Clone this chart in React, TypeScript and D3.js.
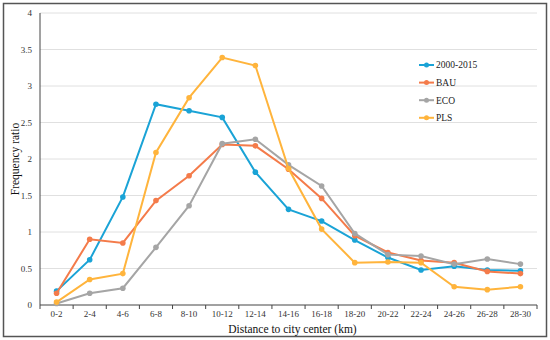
import { useEffect, useRef } from "react";
import * as d3 from "d3";

const categories = ["0-2", "2-4", "4-6", "6-8", "8-10", "10-12", "12-14", "14-16", "16-18", "18-20", "20-22", "22-24", "24-26", "26-28", "28-30"];
const yTicks = [0, 0.5, 1, 1.5, 2, 2.5, 3, 3.5, 4];

const s2000 = [0.19, 0.62, 1.48, 2.75, 2.66, 2.57, 1.82, 1.31, 1.15, 0.89, 0.65, 0.48, 0.53, 0.48, 0.47];
const bau = [0.16, 0.9, 0.85, 1.43, 1.77, 2.2, 2.18, 1.86, 1.46, 0.95, 0.72, 0.61, 0.58, 0.46, 0.43];
const eco = [0.02, 0.16, 0.23, 0.79, 1.36, 2.21, 2.27, 1.92, 1.63, 0.98, 0.69, 0.67, 0.56, 0.63, 0.56];
const pls = [0.04, 0.35, 0.43, 2.09, 2.84, 3.39, 3.28, 1.87, 1.04, 0.58, 0.59, 0.58, 0.25, 0.21, 0.25];

const seriesNames = ["2000-2015", "BAU", "ECO", "PLS"];
const seriesValues = [s2000, bau, eco, pls];
const colors = ["#1aa3d6", "#f47b4a", "#a5a5a5", "#ffb43c"];

export default function App() {
  const svgRef = useRef<SVGSVGElement | null>(null);

  useEffect(() => {
    if (!svgRef.current) return;
    const width = 550;
    const height = 340;
    const margin = { top: 13, right: 13, bottom: 35, left: 40 };
    const w = width - margin.left - margin.right;
    const h = height - margin.top - margin.bottom;
    const font = "'Liberation Serif', 'Times New Roman', serif";

    const svg = d3.select(svgRef.current);
    svg.selectAll("*").remove();
    svg.attr("width", width).attr("height", height).style("display", "block");

    svg.append("rect")
      .attr("x", 3.5).attr("y", 3.5)
      .attr("width", width - 7).attr("height", height - 7)
      .attr("fill", "#fff").attr("stroke", "#555").attr("stroke-width", 1.5);

    const g = svg.append("g").attr("transform", `translate(${margin.left},${margin.top})`);

    const x = d3.scaleBand().domain(categories).range([0, w]);
    const y = d3.scaleLinear().domain([0, 4]).range([h, 0]);

    // gridlines
    g.selectAll("line.grid").data(yTicks.filter(t => t > 0)).enter().append("line")
      .attr("x1", 0).attr("x2", w)
      .attr("y1", d => y(d)).attr("y2", d => y(d))
      .attr("stroke", "#e0e0e0").attr("stroke-width", 1);

    // y tick labels
    g.selectAll("text.yt").data(yTicks).enter().append("text")
      .attr("x", -8).attr("y", d => y(d)).attr("dy", "0.35em")
      .attr("text-anchor", "end").attr("font-family", font).attr("font-size", 9).attr("fill", "#333")
      .text(d => String(d));

    // axes lines
    g.append("line").attr("x1", 0).attr("x2", 0).attr("y1", 0).attr("y2", h).attr("stroke", "#444").attr("stroke-width", 1);
    g.append("line").attr("x1", 0).attr("x2", w).attr("y1", h).attr("y2", h).attr("stroke", "#444").attr("stroke-width", 1);

    // x ticks at boundaries
    const bounds = d3.range(categories.length + 1).map(i => i * x.step());
    g.selectAll("line.xt").data(bounds).enter().append("line")
      .attr("x1", d => d).attr("x2", d => d).attr("y1", h).attr("y2", h + 4)
      .attr("stroke", "#444");

    g.selectAll("text.xl").data(categories).enter().append("text")
      .attr("x", d => (x(d) as number) + x.bandwidth() / 2).attr("y", h + 9).attr("dy", "0.35em")
      .attr("text-anchor", "middle").attr("font-family", font).attr("font-size", 9).attr("fill", "#333")
      .text(d => d);

    svg.append("text")
      .attr("x", margin.left + w / 2 + 4).attr("y", 329).attr("dy", "0.35em")
      .attr("text-anchor", "middle").attr("font-family", font).attr("font-size", 11.5).attr("fill", "#111")
      .text("Distance to city center (km)");

    svg.append("text")
      .attr("transform", "rotate(-90)")
      .attr("x", -(margin.top + h / 2)).attr("y", 15).attr("dy", "0.35em")
      .attr("text-anchor", "middle").attr("font-family", font).attr("font-size", 11.5).attr("fill", "#111")
      .text("Frequency ratio");

    const cx = (i: number) => (x(categories[i]) as number) + x.bandwidth() / 2;
    const line = d3.line<number>().x((_, i) => cx(i)).y(d => y(d));

    seriesValues.forEach((vals, k) => {
      g.append("path").datum(vals).attr("d", line)
        .attr("fill", "none").attr("stroke", colors[k]).attr("stroke-width", 2);
      g.selectAll(`circle.s${k}`).data(vals).enter().append("circle")
        .attr("cx", (_, i) => cx(i)).attr("cy", d => y(d)).attr("r", 2.8)
        .attr("fill", colors[k]);
    });

    // legend
    const lg = svg.append("g").attr("transform", "translate(419,65)");
    seriesNames.forEach((name, k) => {
      const row = lg.append("g").attr("transform", `translate(0,${k * 17.6})`);
      row.append("line").attr("x1", 0).attr("x2", 15).attr("y1", 0).attr("y2", 0)
        .attr("stroke", colors[k]).attr("stroke-width", 2);
      row.append("circle").attr("cx", 7.5).attr("cy", 0).attr("r", 2.5).attr("fill", colors[k]);
      row.append("text").attr("x", 17).attr("y", 0).attr("dy", "0.35em")
        .attr("font-family", font).attr("font-size", 9.5).attr("fill", "#222").text(name);
    });
  }, []);

  return <svg ref={svgRef} style={{ position: "absolute", left: 0, top: 0 }} />;
}
